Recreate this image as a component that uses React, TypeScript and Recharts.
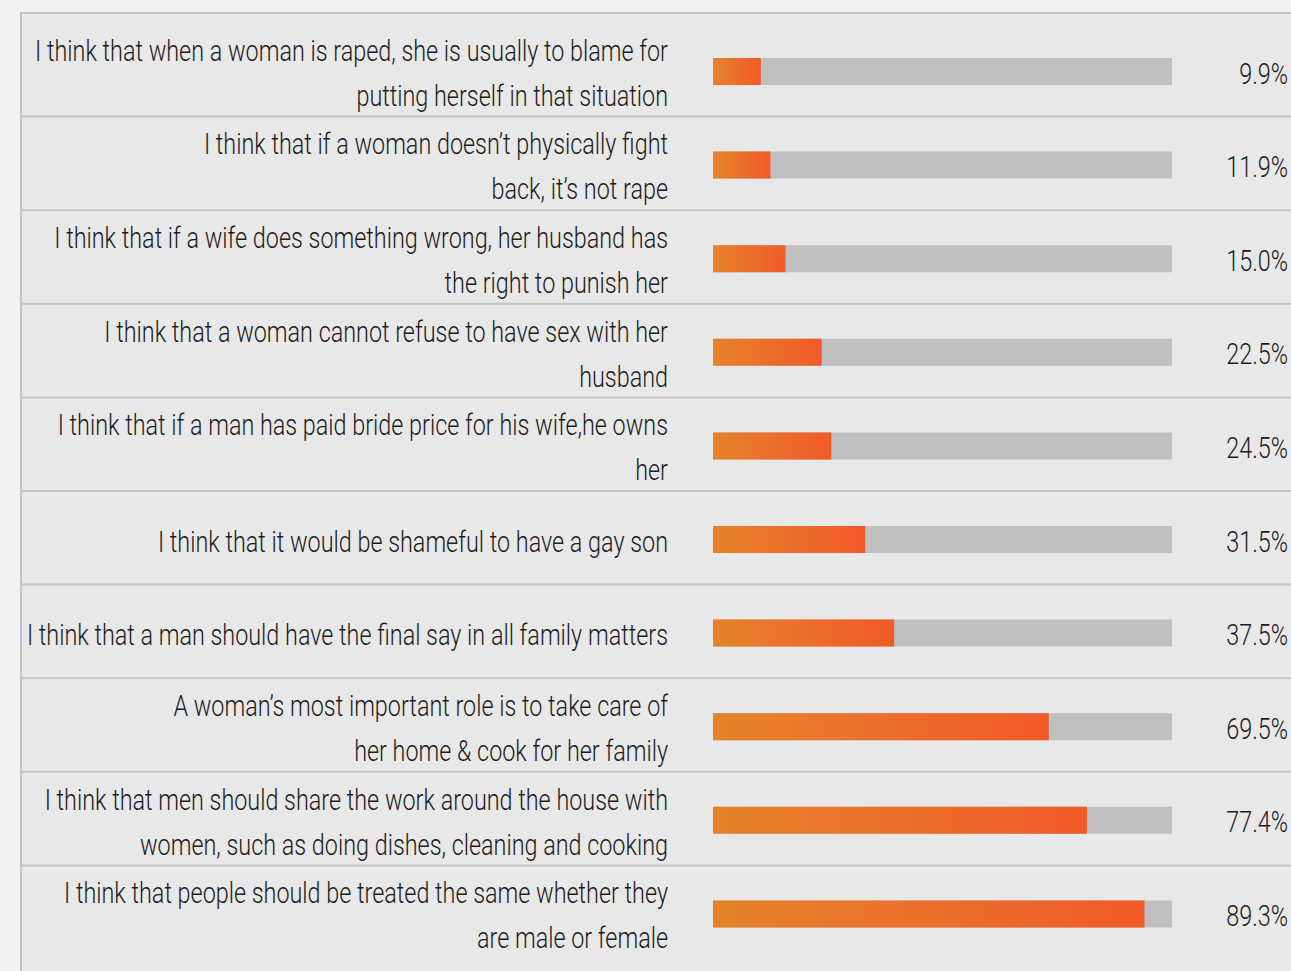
import { BarChart, Bar, XAxis, YAxis, CartesianGrid, LabelList } from 'recharts'

// statements, line breaks as in the source graphic
const statements = [
  'I think that when a woman is raped, she is usually to blame for\nputting herself in that situation',
  'I think that if a woman doesn\u2019t physically fight\nback, it\u2019s not rape',
  'I think that if a wife does something wrong, her husband has\nthe right to punish her',
  'I think that a woman cannot refuse to have sex with her\nhusband',
  'I think that if a man has paid bride price for his wife,he owns\nher',
  'I think that it would be shameful to have a gay son',
  'I think that a man should have the final say in all family matters',
  'A woman\u2019s most important role is to take care of\nher home & cook for her family',
  'I think that men should share the work around the house with\nwomen, such as doing dishes, cleaning and cooking',
  'I think that people should be treated the same whether they\nare male or female',
]

const agreePct = [9.9, 11.9, 15.0, 22.5, 24.5, 31.5, 37.5, 69.5, 77.4, 89.3]

const data = statements.map((s, i) => ({ statement: s, value: agreePct[i] }))

const FONT = 'Roboto, "DejaVu Sans Condensed", sans-serif'
const SX = 0.806
const TEXT = '#1c1c1c'

const W = 1291
const H = 971
const MARGIN = { top: 25, right: 119, bottom: 10, left: 0 }

function StatementTick(props: any) {
  const { y, payload } = props
  const lines: string[] = String(payload.value).split('\n')
  const ys = lines.length === 1 ? [12] : [-11, 34]
  return (
    <g>
      {lines.map((line, i) => (
        <text
          key={i}
          transform={`translate(668,${y + ys[i]}) scale(${SX},1)`}
          textAnchor="end"
          fontFamily={FONT}
          fontWeight={300}
          fontSize={29}
          fill={TEXT}
        >
          {line}
        </text>
      ))}
    </g>
  )
}

function PctLabel(props: any) {
  const { y, height, value } = props
  const cy = y + height / 2
  return (
    <text
      transform={`translate(1288,${cy + 12}) scale(${SX},1)`}
      textAnchor="end"
      fontFamily={FONT}
      fontWeight={300}
      fontSize={29}
      fill={TEXT}
    >
      {Number(value).toFixed(1)}%
    </text>
  )
}

export default function App() {
  const band = (H - MARGIN.top - MARGIN.bottom) / data.length
  return (
    <div style={{ position: 'absolute', left: 0, top: 0, width: W, height: H, background: '#f2f2f2', overflow: 'hidden' }}>
      <div
        style={{
          position: 'absolute',
          left: 20,
          top: 12,
          right: 0,
          bottom: 0,
          background: '#e8e8e8',
          borderLeft: '2px solid #c4c4c4',
          borderTop: '2px solid #c4c4c4',
        }}
      />
      <div style={{ position: 'absolute', left: 0, top: 0 }}>
        <BarChart width={W} height={H} data={data} layout="vertical" margin={MARGIN}>
          <defs>
            <linearGradient id="barFill" x1="0" y1="0" x2="1" y2="0">
              <stop offset="0%" stopColor="#e5832a" />
              <stop offset="100%" stopColor="#f15a28" />
            </linearGradient>
          </defs>
          <CartesianGrid
            vertical={false}
            stroke="#c4c4c4"
            strokeWidth={2}
            horizontalCoordinatesGenerator={() =>
              agreePct.slice(1).map((_, i) => MARGIN.top + band * (i + 1) - 2)
            }
            x={20}
            width={W - 20}
          />
          <XAxis type="number" domain={[0, 95]} hide allowDataOverflow />
          <YAxis
            type="category"
            dataKey="statement"
            width={713}
            axisLine={false}
            tickLine={false}
            tick={<StatementTick />}
            interval={0}
          />
          <Bar
            dataKey="value"
            barSize={27}
            fill="url(#barFill)"
            background={{ fill: '#bebfbe' }}
            isAnimationActive={false}
          >
            <LabelList dataKey="value" content={<PctLabel />} />
          </Bar>
        </BarChart>
      </div>
    </div>
  )
}
